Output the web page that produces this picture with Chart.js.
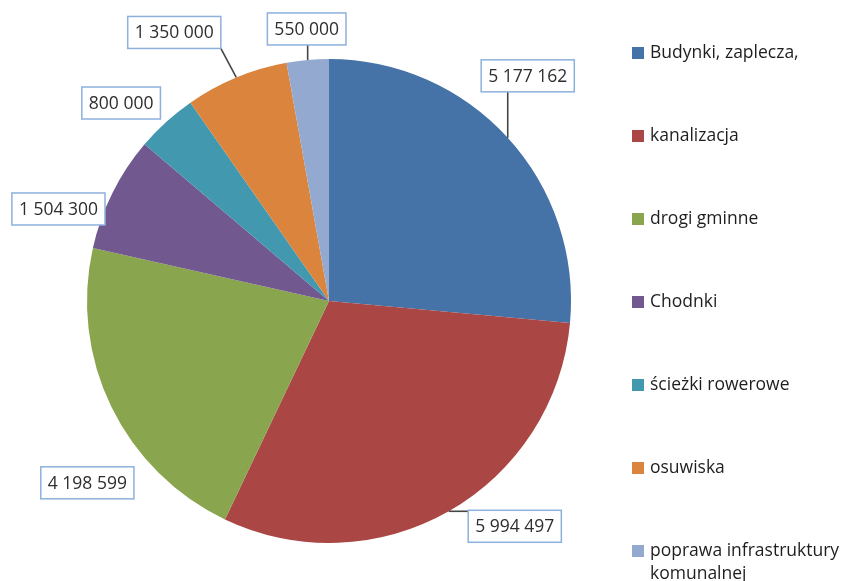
<!DOCTYPE html>
<html><head><meta charset="utf-8">
<script src="https://cdn.jsdelivr.net/npm/chart.js@4/dist/chart.umd.min.js"></script>
<style>html,body{margin:0;padding:0;background:#fff}#wrap{width:848px;height:581px;position:relative}</style>
</head><body><div id="wrap"><canvas id="c" width="848" height="581"></canvas></div>
<script>
// ---- data ----
const categories = ['Budynki, zaplecza,', 'kanalizacja', 'drogi gminne', 'Chodnki', 'ścieżki rowerowe', 'osuwiska', 'poprawa infrastruktury komunalnej'];
const values = [5177162, 5994497, 4198599, 1504300, 800000, 1350000, 550000];
const colors = ['#4572A7', '#AA4643', '#89A54E', '#71588F', '#4198AF', '#DB843D', '#93A9CF'];

function fmt(v) { return String(v).replace(/\B(?=(\d{3})+(?!\d))/g, ' '); }

// label box placement relative to the slice's outer-midpoint (style only)
const labelOffsets = [[20, -62], [66, 15], [-24, 76], [-54, 16], [-45, -19], [-62, -45], [-1, -31]];
const labelLeader = [true, true, false, false, false, true, true];
const FONT = '17.5px "Open Sans", sans-serif';

const dataLabelPlugin = {
  id: 'boxLabels',
  afterDatasetsDraw(chart) {
    const ctx = chart.ctx;
    const meta = chart.getDatasetMeta(0);
    ctx.save();
    ctx.font = FONT;
    meta.data.forEach((arc, i) => {
      const p = arc.getProps(['x', 'y', 'startAngle', 'endAngle', 'outerRadius'], true);
      const mid = (p.startAngle + p.endAngle) / 2;
      const ax = p.x + Math.cos(mid) * p.outerRadius;
      const ay = p.y + Math.sin(mid) * p.outerRadius;
      const txt = fmt(values[i]);
      const tw = ctx.measureText(txt).width;
      const w = tw + 14, h = 32;
      const cx = ax + labelOffsets[i][0], cy = ay + labelOffsets[i][1];
      const l = cx - w / 2, t = cy - h / 2;
      if (labelLeader[i]) {
        const tx = Math.min(Math.max(ax, l), l + w);
        const ty = Math.min(Math.max(ay, t), t + h);
        ctx.strokeStyle = '#454545';
        ctx.lineWidth = 1.6;
        ctx.beginPath(); ctx.moveTo(ax, ay); ctx.lineTo(tx, ty); ctx.stroke();
      }
      ctx.fillStyle = '#fff';
      ctx.fillRect(l, t, w, h);
      ctx.strokeStyle = '#8DB0DD';
      ctx.lineWidth = 1.5;
      ctx.strokeRect(l, t, w, h);
      ctx.fillStyle = '#2e2e2e';
      ctx.textAlign = 'center';
      ctx.textBaseline = 'middle';
      ctx.fillText(txt, cx, cy + 1);
    });
    ctx.restore();
  }
};

const legendPlugin = {
  id: 'sideLegend',
  afterDraw(chart) {
    const ctx = chart.ctx;
    const ds = chart.data.datasets[0];
    const x0 = 632, y0 = 53, step = 83, maxW = 200, lh = 23;
    ctx.save();
    ctx.font = FONT;
    ctx.textBaseline = 'middle';
    ctx.textAlign = 'left';
    chart.data.labels.forEach((lab, i) => {
      const y = y0 + i * step;
      ctx.fillStyle = ds.backgroundColor[i];
      ctx.fillRect(x0, y - 6, 12, 12);
      ctx.fillStyle = '#1e1e1e';
      const words = lab.split(' ');
      let line = '', ly = y;
      words.forEach(wd => {
        const test = line ? line + ' ' + wd : wd;
        if (line && ctx.measureText(test).width > maxW) {
          ctx.fillText(line, x0 + 18, ly);
          line = wd; ly += lh;
        } else line = test;
      });
      ctx.fillText(line, x0 + 18, ly);
    });
    ctx.restore();
  }
};

new Chart(document.getElementById('c'), {
  type: 'pie',
  data: {
    labels: categories,
    datasets: [{ data: values, backgroundColor: colors, borderWidth: 0, hoverOffset: 0 }]
  },
  options: {
    responsive: false,
    animation: false,
    layout: { padding: { left: 87, right: 277, top: 59, bottom: 38 } },
    plugins: { legend: { display: false }, tooltip: { enabled: false } }
  },
  plugins: [dataLabelPlugin, legendPlugin]
});
</script>
</body></html>
